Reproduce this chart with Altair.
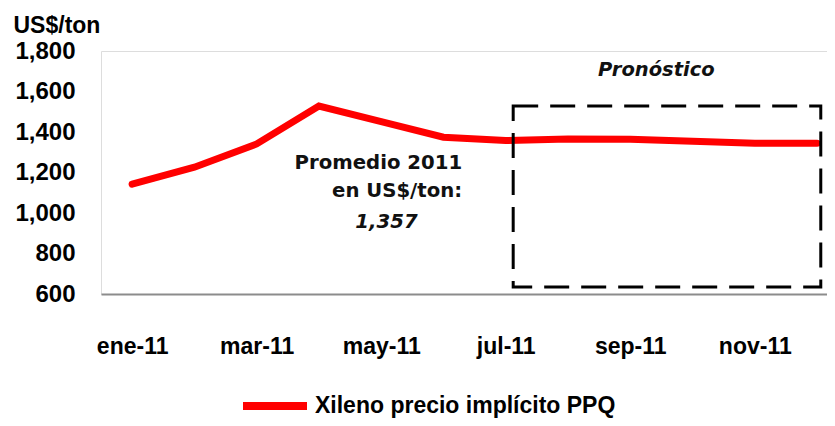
import json
import altair as alt
import pandas as pd

# ---- data ----
months = ["ene-11", "feb-11", "mar-11", "abr-11", "may-11", "jun-11",
          "jul-11", "ago-11", "sep-11", "oct-11", "nov-11", "dic-11"]
prices = [1142, 1226, 1341, 1528, 1451, 1374, 1358, 1365, 1364, 1354, 1344, 1344]
series_name = "Xileno precio implícito PPQ"

y_ticks = [600, 800, 1000, 1200, 1400, 1600, 1800]
x_label_idx = [0, 2, 4, 6, 8, 10]

# forecast box (month index / US$ per ton)
box_x = [6.12, 11.06]
box_y = [635, 1528]

# annotation texts
avg_lines = ["Promedio 2011", "en US$/ton:"]
avg_x = [5.30, 5.30]
avg_y = [1216, 1078]
avg_value = ["1,357"]
avg_value_x = [4.085]
avg_value_y = [928]
forecast_label = ["Pronóstico"]
forecast_x = [8.42]
forecast_y = [1678]

# ---- tables ----
df = pd.DataFrame({"idx": list(range(len(months))), "price": prices,
                   "serie": [series_name] * len(months)})
box_df = pd.DataFrame({"x0": [box_x[0]], "x1": [box_x[1]],
                       "y0": [box_y[0]], "y1": [box_y[1]]})
avg_df = pd.DataFrame({"x": avg_x, "y": avg_y, "t": avg_lines})
val_df = pd.DataFrame({"x": avg_value_x, "y": avg_value_y, "t": avg_value})
fc_df = pd.DataFrame({"x": forecast_x, "y": forecast_y, "t": forecast_label})

xscale = alt.Scale(domain=[-0.5, 11.16], nice=False, zero=False)
yscale = alt.Scale(domain=[600, 1800], nice=False, zero=False)

label_expr = json.dumps(months) + "[datum.value]"

line = alt.Chart(df).mark_line(strokeWidth=7, strokeCap="round").encode(
    x=alt.X("idx:Q", scale=xscale,
            axis=alt.Axis(values=x_label_idx, labelExpr=label_expr, title=None,
                          grid=False, ticks=False, domain=True,
                          domainColor="#8c8c8c", domainWidth=2,
                          labelFont="Liberation Sans", labelFontSize=23,
                          labelFontWeight="bold", labelColor="#000000",
                          labelPadding=41, labelAngle=0)),
    y=alt.Y("price:Q", scale=yscale,
            axis=alt.Axis(values=y_ticks, format=",.0f", title="US$/ton",
                          titleAngle=0, titleAlign="left", titleBaseline="alphabetic",
                          titleX=-88, titleY=-19, titleFont="Liberation Sans",
                          titleFontSize=23, titleFontWeight="bold", titleColor="#000000",
                          grid=False, ticks=False, domain=False,
                          labelFont="Liberation Sans", labelFontSize=24,
                          labelFontWeight="bold", labelColor="#000000",
                          labelPadding=26)),
    color=alt.Color("serie:N", scale=alt.Scale(range=["#FF0000"]),
                    legend=alt.Legend(title=None, orient="none", legendX=138, legendY=319,
                                      symbolType="stroke", symbolSize=4096,
                                      symbolStrokeWidth=8, labelOffset=4,
                                      labelFont="Liberation Sans", labelFontSize=23,
                                      labelFontWeight="bold", labelColor="#000000",
                                      labelLimit=0, padding=0)),
)

box = alt.Chart(box_df).mark_rect(filled=False, stroke="#000000", strokeWidth=3,
                                  strokeDash=[25, 12]).encode(
    x="x0:Q", x2="x1:Q", y="y0:Q", y2="y1:Q")

avg_text = alt.Chart(avg_df).mark_text(align="right", baseline="alphabetic",
                                       font="DejaVu Sans", fontSize=19.7,
                                       fontWeight="bold", color="#111111").encode(
    x="x:Q", y="y:Q", text="t:N")

val_text = alt.Chart(val_df).mark_text(align="center", baseline="alphabetic",
                                       font="DejaVu Sans", fontSize=19.7,
                                       fontWeight="bold", fontStyle="italic",
                                       color="#111111").encode(
    x="x:Q", y="y:Q", text="t:N")

fc_text = alt.Chart(fc_df).mark_text(align="center", baseline="alphabetic",
                                     font="DejaVu Sans", fontSize=19.5,
                                     fontWeight="bold", fontStyle="italic",
                                     color="#111111").encode(
    x="x:Q", y="y:Q", text="t:N")

chart = alt.layer(line, box, avg_text, val_text, fc_text).properties(
    width=726, height=243,
    autosize=alt.AutoSizeParams(type="none"),
    padding={"left": 93, "top": 43, "right": 0, "bottom": 124},
).configure_view(stroke=None).configure(background="#ffffff")

chart.save("out.html", embed_options={"renderer": "svg", "actions": False})
